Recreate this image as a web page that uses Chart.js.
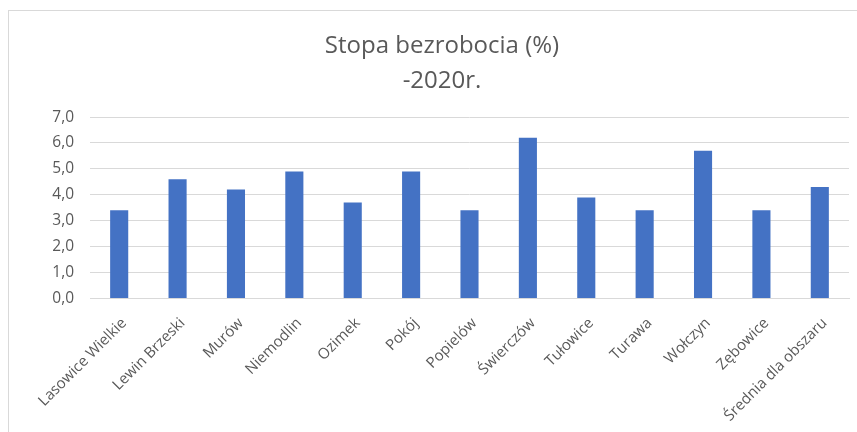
<!DOCTYPE html>
<html lang="pl">
<head>
<meta charset="utf-8">
<script src="https://cdn.jsdelivr.net/npm/chart.js@4"></script>
<style>
  html, body { margin: 0; padding: 0; background: #fff; overflow: hidden; width: 857px; height: 432px; }
  #box {
    position: absolute; left: 8px; top: 10px;
    width: 870px; height: 440px;
    border: 1px solid #d9d9d9; background: #fff;
  }
  #box canvas { display: block; }
</style>
</head>
<body>
<div id="box"><canvas id="chart" width="870" height="440"></canvas></div>
<script>
// gminy + średnia
const categories = [
  "Lasowice Wielkie", "Lewin Brzeski", "Murów", "Niemodlin", "Ozimek", "Pokój",
  "Popielów", "Świerczów", "Tułowice", "Turawa", "Wołczyn", "Zębowice", "Średnia dla obszaru"
];
const stopa2020 = [3.4, 4.6, 4.2, 4.9, 3.7, 4.9, 3.4, 6.2, 3.9, 3.4, 5.7, 3.4, 4.3];
const titleLines = ["Stopa bezrobocia (%)", "-2020r."];

const txt = "#595959";
const grid = "#d9d9d9";

new Chart(document.getElementById("chart").getContext("2d"), {
  type: "bar",
  data: {
    labels: categories,
    datasets: [{
      data: stopa2020,
      backgroundColor: "#4472c4",
      barPercentage: 0.31,
      categoryPercentage: 1
    }]
  },
  options: {
    responsive: false,
    animation: false,
    layout: { padding: { left: 26, right: 30, top: 0, bottom: 10 } },
    plugins: {
      legend: { display: false },
      tooltip: { enabled: false },
      title: {
        display: true,
        text: titleLines,
        color: txt,
        font: { family: "Open Sans", size: 24, weight: "normal", lineHeight: 1.46 },
        padding: { top: 18, bottom: 18 }
      }
    },
    scales: {
      x: {
        grid: { display: false, drawTicks: false },
        border: { color: grid },
        ticks: {
          color: txt,
          font: { family: "Open Sans", size: 15 },
          minRotation: 45, maxRotation: 45,
          autoSkip: false,
          labelOffset: 5,
          padding: 16
        }
      },
      y: {
        min: 0, max: 7,
        afterFit: s => { s.width = 55; },
        grid: { color: grid, drawTicks: false },
        border: { display: false },
        ticks: {
          stepSize: 1,
          color: txt,
          font: { family: "Open Sans", size: 15.5 },
          padding: 16,
          callback: v => v.toFixed(1).replace(".", ",")
        }
      }
    }
  }
});
</script>
</body>
</html>
